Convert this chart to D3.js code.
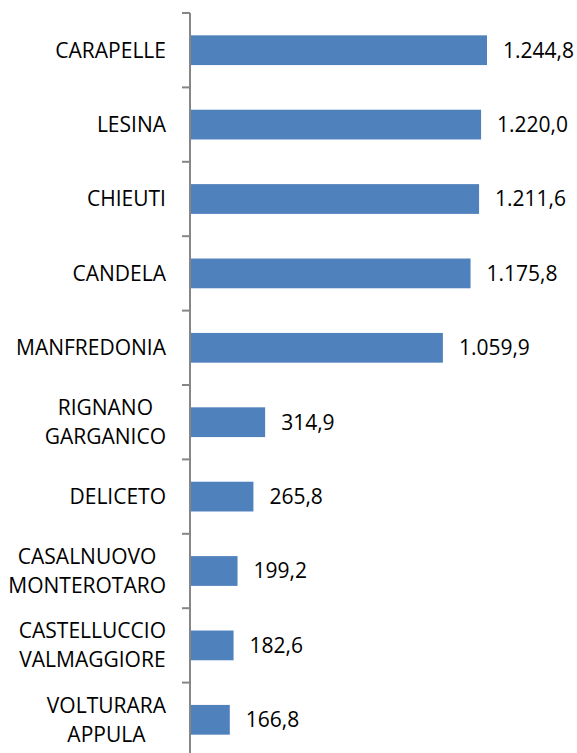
<!DOCTYPE html>
<html>
<head>
<meta charset="utf-8">
<script src="https://cdn.jsdelivr.net/npm/d3@7"></script>
<style>
  html, body { margin: 0; padding: 0; background: #fff; }
  svg { display: block; }
  text { font-family: "Open Sans", sans-serif; font-size: 21px; fill: #000; }
</style>
</head>
<body>
<div id="chart"></div>
<script>
// Categories top to bottom, label lines split for wrapping
const categories = [
  ['CARAPELLE'],
  ['LESINA'],
  ['CHIEUTI'],
  ['CANDELA'],
  ['MANFREDONIA'],
  ['RIGNANO', 'GARGANICO'],
  ['DELICETO'],
  ['CASALNUOVO', 'MONTEROTARO'],
  ['CASTELLUCCIO', 'VALMAGGIORE'],
  ['VOLTURARA', 'APPULA']
]
const values = [1244.8, 1220.0, 1211.6, 1175.8, 1059.9, 314.9, 265.8, 199.2, 182.6, 166.8]

const width = 577
const height = 753
const axisX = 190
const plotTop = 13
const step = 74.4

const it = d3.formatLocale({ decimal: ',', thousands: '.', grouping: [3], currency: ['€', ''] })
const fmt = it.format(',.1f')

const data = categories.map((lines, i) => ({ key: lines.join(' '), lines, value: values[i] }))

const svg = d3.select('#chart').append('svg')
  .attr('width', width)
  .attr('height', height)

const x = d3.scaleLinear().domain([0, 1244.8]).range([axisX, 487])
const y = d3.scaleBand()
  .domain(data.map(d => d.key))
  .range([plotTop, plotTop + step * data.length])
  .paddingInner(0.6)
  .paddingOuter(0.3)

// bars
svg.selectAll('rect.bar').data(data).join('rect')
  .attr('class', 'bar')
  .attr('x', x(0))
  .attr('y', d => y(d.key))
  .attr('width', d => x(d.value) - x(0))
  .attr('height', y.bandwidth())
  .attr('fill', '#4f81bd')

// axis line and tick marks at category boundaries
const g = svg.append('g').attr('stroke', '#868686').attr('stroke-width', 2)
g.append('line').attr('x1', axisX).attr('x2', axisX).attr('y1', plotTop).attr('y2', height)
g.selectAll('line.tick').data(data).join('line')
  .attr('class', 'tick')
  .attr('x1', axisX - 8).attr('x2', axisX)
  .attr('y1', d => y(d.key) - y.step() * y.paddingOuter())
  .attr('y2', d => y(d.key) - y.step() * y.paddingOuter())

// category labels: block right-aligned, lines centred within block
const labelRight = 166
const lineH = 29
const lab = svg.selectAll('g.label').data(data).join('g').attr('class', 'label')
lab.each(function (d) {
  const cy = y(d.key) + y.bandwidth() / 2
  const sel = d3.select(this)
  const texts = d.lines.map((t, j) => sel.append('text')
    .attr('y', cy + (j - (d.lines.length - 1) / 2) * lineH)
    .attr('dy', '0.35em')
    .text(t))
  const w = d3.max(texts, t => t.node().getComputedTextLength())
  texts.forEach(t => t.attr('x', labelRight - w / 2).attr('text-anchor', 'middle'))
})

// value labels
svg.selectAll('text.val').data(data).join('text')
  .attr('class', 'val')
  .attr('x', d => x(d.value) + 16)
  .attr('y', d => y(d.key) + y.bandwidth() / 2)
  .attr('dy', '0.35em')
  .text(d => fmt(d.value))
</script>
</body>
</html>
